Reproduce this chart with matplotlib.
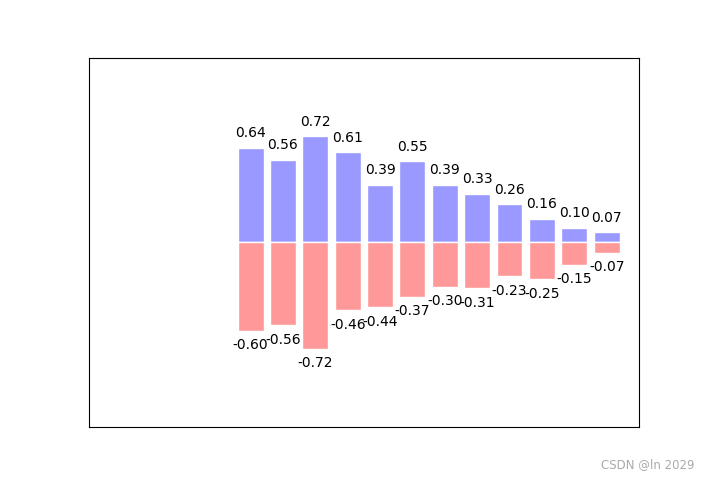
import matplotlib.pyplot as plt
import numpy as np

# bar values
X = np.arange(12)
Y1 = [0.64, 0.56, 0.72, 0.61, 0.39, 0.55, 0.39, 0.33, 0.26, 0.16, 0.10, 0.07]
Y2 = [0.60, 0.56, 0.72, 0.46, 0.44, 0.37, 0.30, 0.31, 0.23, 0.25, 0.15, 0.07]

fig = plt.figure(figsize=(7.1, 4.8), dpi=100)
ax = fig.add_subplot(111)

ax.bar(X, Y1, facecolor='#9999ff', edgecolor='white')
ax.bar(X, [-v for v in Y2], facecolor='#ff9999', edgecolor='white')

for x, y in zip(X, Y1):
    ax.text(x, y + 0.05, '%.2f' % y, ha='center', va='bottom')
for x, y in zip(X, Y2):
    ax.text(x, -y - 0.05, '%.2f' % -y, ha='center', va='top')

ax.set_xlim(-5, 12)
ax.set_ylim(-1.25, 1.25)
ax.set_xticks([])
ax.set_yticks([])

# watermark
fig.text(0.978, 0.018, 'CSDN @ln 2029', ha='right', va='bottom',
         fontsize=8.5, color='#aaaaaa')

plt.savefig('out.png', dpi=100)
